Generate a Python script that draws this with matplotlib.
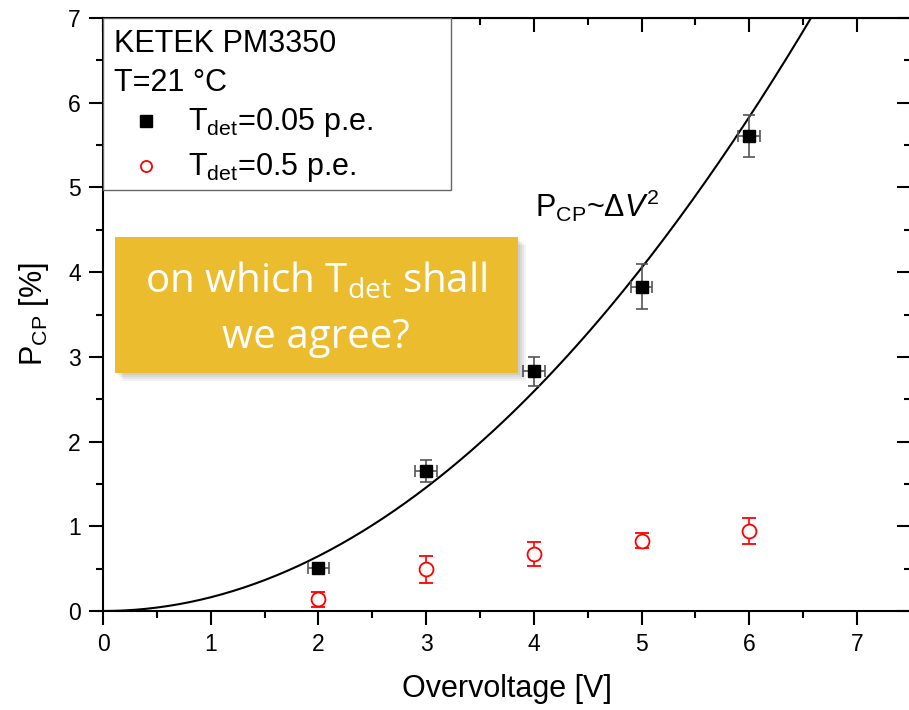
import numpy as np
import matplotlib
matplotlib.use("Agg")
from matplotlib import pyplot as plt
from matplotlib.patches import Rectangle
from matplotlib.ticker import MultipleLocator

# measured data
overvoltage = [2, 3, 4, 5, 6]
pcp_005 = [0.51, 1.65, 2.83, 3.83, 5.61]
pcp_005_yerr = [0.06, 0.13, 0.17, 0.27, 0.25]
pcp_005_xerr = [0.1, 0.1, 0.1, 0.1, 0.1]
pcp_05 = [0.14, 0.49, 0.67, 0.83, 0.94]
pcp_05_yerr = [0.09, 0.16, 0.14, 0.09, 0.155]
fit_coef = 0.162  # P_CP = a * dV^2

plt.rcParams['font.family'] = ['Liberation Sans', 'DejaVu Sans']
plt.rcParams['mathtext.fontset'] = 'custom'
plt.rcParams['mathtext.rm'] = 'Liberation Sans'
plt.rcParams['mathtext.it'] = 'Liberation Sans:italic'

fig = plt.figure(figsize=(9.09, 7.10), dpi=100)
ax = fig.add_axes([103 / 909, 1 - 611 / 710, 1.002 - 103 / 909, (611 - 18) / 710])

v_fit = np.linspace(0, 7.5, 300)
ax.plot(v_fit, fit_coef * v_fit ** 2, color='black', linewidth=1.5, zorder=2)

ax.errorbar(overvoltage, pcp_005, yerr=pcp_005_yerr, xerr=pcp_005_xerr,
            fmt='s', color='black', markersize=9, ecolor='#555555',
            elinewidth=1.2, capsize=4, capthick=1.2, zorder=3)
ax.errorbar(overvoltage, pcp_05, yerr=pcp_05_yerr,
            fmt='o', color='red', markerfacecolor='white', markersize=10,
            markeredgewidth=1.3, ecolor='red', elinewidth=1.2, capsize=5,
            capthick=1.2, zorder=3)

ax.set_xlim(0, 7.5)
ax.set_ylim(0, 7)
ax.xaxis.set_major_locator(MultipleLocator(1))
ax.xaxis.set_minor_locator(MultipleLocator(0.5))
ax.yaxis.set_major_locator(MultipleLocator(1))
ax.yaxis.set_minor_locator(MultipleLocator(0.5))
ax.tick_params(which='both', direction='out', width=1.5, labelsize=16.5,
               top=False, right=False)
ax.tick_params(which='major', length=10, pad=6)
ax.tick_params(which='minor', length=5)
for s in ax.spines.values():
    s.set_linewidth(1.5)

sec_x = ax.secondary_xaxis('top')
sec_x.set_xticks(np.arange(0, 8, 1))
sec_x.xaxis.set_minor_locator(MultipleLocator(0.5))
sec_x.tick_params(which='both', direction='in', labeltop=False, width=1.5)
sec_x.tick_params(which='major', length=10)
sec_x.tick_params(which='minor', length=5)
sec_y = ax.secondary_yaxis('right')
sec_y.set_yticks(np.arange(0, 8, 1))
sec_y.yaxis.set_minor_locator(MultipleLocator(0.5))
sec_y.tick_params(which='both', direction='in', labelright=False, width=1.5)
sec_y.tick_params(which='major', length=10)
sec_y.tick_params(which='minor', length=5)

ax.set_xlabel('Overvoltage [V]', fontsize=22, labelpad=13)
ax.set_ylabel(r'P$_{\mathregular{CP}}$ [%]', fontsize=22, labelpad=12)

ax.text(4.01, 4.65, r'P$_{\mathregular{CP}}$~$\mathregular{\Delta}V^{\mathregular{2}}$',
        fontsize=22, ha='left', va='baseline')

# legend box (drawn by hand to match the Origin layout)
ax.add_patch(Rectangle((0, (611 - 190) / 593), (451 - 103) / 808, (190 - 18) / 593,
                       transform=ax.transAxes, facecolor='white',
                       edgecolor='#666666', linewidth=1.0, zorder=4))
txt_x = (114 - 103) / 808
ax.text(txt_x, (611 - 52) / 593, 'KETEK PM3350', transform=ax.transAxes,
        fontsize=22, va='baseline', zorder=5)
ax.text(txt_x, (611 - 91) / 593, 'T=21 °C', transform=ax.transAxes,
        fontsize=22, va='baseline', zorder=5)
mk_x = (146 - 103) / 808
ax.plot([mk_x], [(611 - 121) / 593], 's', color='black', markersize=8.5,
        transform=ax.transAxes, zorder=5, clip_on=False)
ax.plot([mk_x], [(611 - 166) / 593], 'o', color='red', markerfacecolor='white',
        markersize=8, markeredgewidth=1.3, transform=ax.transAxes, zorder=5,
        clip_on=False)
ent_x = (188 - 103) / 808
ax.text(ent_x, (611 - 130) / 593, r'T$_{\mathregular{det}}$=0.05 p.e.',
        transform=ax.transAxes, fontsize=22, va='baseline', zorder=5)
ax.text(ent_x, (611 - 175) / 593, r'T$_{\mathregular{det}}$=0.5 p.e.',
        transform=ax.transAxes, fontsize=22, va='baseline', zorder=5)

# yellow callout with shadow
for i in range(4):
    off = (i + 1) * 2
    fig.patches.append(Rectangle((115 / 909 + off / 909, 1 - (373 + off) / 710), 403 / 909, 136 / 710,
                                 transform=fig.transFigure, facecolor='black',
                                 alpha=0.05, edgecolor='none', zorder=9))
fig.patches.append(Rectangle((115 / 909, 1 - 373 / 710), 403 / 909, 136 / 710,
                             transform=fig.transFigure, facecolor='#EBBD2E',
                             edgecolor='none', zorder=10))
fig.text(316 / 909, 1 - 292 / 710, r'on which T$_{\mathregular{det}}$ shall',
         fontsize=29, color='white', family='Open Sans', ha='center',
         va='baseline', zorder=11)
fig.text(316 / 909, 1 - 348 / 710, 'we agree?',
         fontsize=29, color='white', family='Open Sans', ha='center',
         va='baseline', zorder=11)

plt.savefig('out.png', dpi=100)
plt.close()
